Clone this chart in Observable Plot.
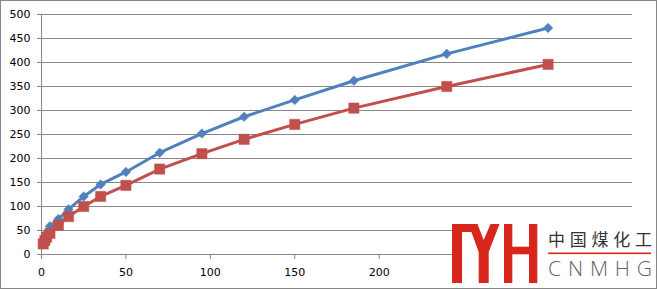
<!DOCTYPE html>
<html>
<head>
<meta charset="utf-8">
<script src="https://cdn.jsdelivr.net/npm/d3@7"></script>
<script src="https://cdn.jsdelivr.net/npm/@observablehq/plot@0.6"></script>
<style>
  html, body { margin: 0; padding: 0; background: #fff; }
  #wrap { position: relative; width: 657px; height: 289px; overflow: hidden; }
  #logo { position: absolute; left: 452px; top: 212px; }
</style>
</head>
<body>
<div id="wrap">
  <div id="chart"></div>
  <svg id="logo" width="202" height="74" viewBox="0 0 202 74">
    <rect x="0" y="0" width="202" height="74" fill="#fff"/>
    <g fill="#d9261c">
      <rect x="0" y="12" width="10" height="59"/>
      <rect x="0" y="12" width="21" height="8"/>
      <polygon points="16.5,12 25.5,12 31.7,28 38.5,12 47.5,12 36.7,40 36.7,71 26.7,71 26.7,40"/>
      <rect x="52" y="12" width="8.3" height="59"/>
      <rect x="77" y="12" width="8.3" height="59"/>
      <rect x="60" y="34.7" width="17" height="7.6"/>
    </g>
    <text x="96" y="33.5" font-family="Noto Sans CJK SC" font-size="17" fill="#333" textLength="104" lengthAdjust="spacing">中国煤化工</text>
    <rect x="96" y="40.5" width="103" height="1.6" fill="#d9261c"/>
    <text x="96" y="64" font-family="Open Sans" font-weight="300" font-size="21" fill="#666" textLength="104" lengthAdjust="spacing">CNMHG</text>
  </svg>
</div>
<script>
const xValues   = [1, 2, 3, 5, 10, 16, 25, 35, 50, 70, 95, 120, 150, 185, 240, 300];
const blueSeries = [24, 34, 44, 59, 74, 94, 121, 146, 172, 212, 252, 287, 322, 362, 418, 472];
const redSeries  = [22, 29, 36, 44, 61, 79, 100, 121, 144, 178, 210, 240, 271, 305, 350, 396];
const xTicks = [0, 50, 100, 150, 200];
const yTicks = [0, 50, 100, 150, 200, 250, 300, 350, 400, 450, 500];

const blueData = xValues.map((x, i) => ({x, y: blueSeries[i]}));
const redData  = xValues.map((x, i) => ({x, y: redSeries[i]}));

const BLUE = "#4F81BD", RED = "#C0504D", GRID = "#868686";

const chart = Plot.plot({
  width: 657,
  height: 289,
  marginLeft: 41,
  marginRight: 25,
  marginTop: 14,
  marginBottom: 35,
  style: { fontFamily: "DejaVu Sans", fontSize: "11px", background: "#fff", overflow: "visible" },
  x: { domain: [0, 350] },
  y: { domain: [0, 500] },
  marks: [
    Plot.gridY(yTicks, { stroke: GRID, strokeOpacity: 1, strokeWidth: 1 }),
    Plot.ruleX([0], { stroke: GRID, strokeWidth: 1 }),
    Plot.axisY(yTicks, { tickSize: 4, tickPadding: 7, stroke: GRID, fill: "#000", label: null }),
    Plot.axisX(xTicks, { tickSize: 5, tickPadding: 9, stroke: GRID, fill: "#000", label: null }),
    Plot.line(blueData, { x: "x", y: "y", stroke: BLUE, strokeWidth: 3 }),
    Plot.dot(blueData, { x: "x", y: "y", symbol: "diamond2", r: 4.3, fill: BLUE, stroke: BLUE, strokeWidth: 0.5 }),
    Plot.line(redData, { x: "x", y: "y", stroke: RED, strokeWidth: 3 }),
    Plot.dot(redData, { x: "x", y: "y", symbol: "square", r: 5.8, fill: RED, stroke: RED, strokeWidth: 0.5 })
  ]
});

d3.select(chart).append("rect")
  .attr("x", 0.5).attr("y", 0.5)
  .attr("width", 656).attr("height", 288)
  .attr("fill", "none").attr("stroke", GRID).attr("stroke-width", 1);

document.getElementById("chart").appendChild(chart);
</script>
</body>
</html>
